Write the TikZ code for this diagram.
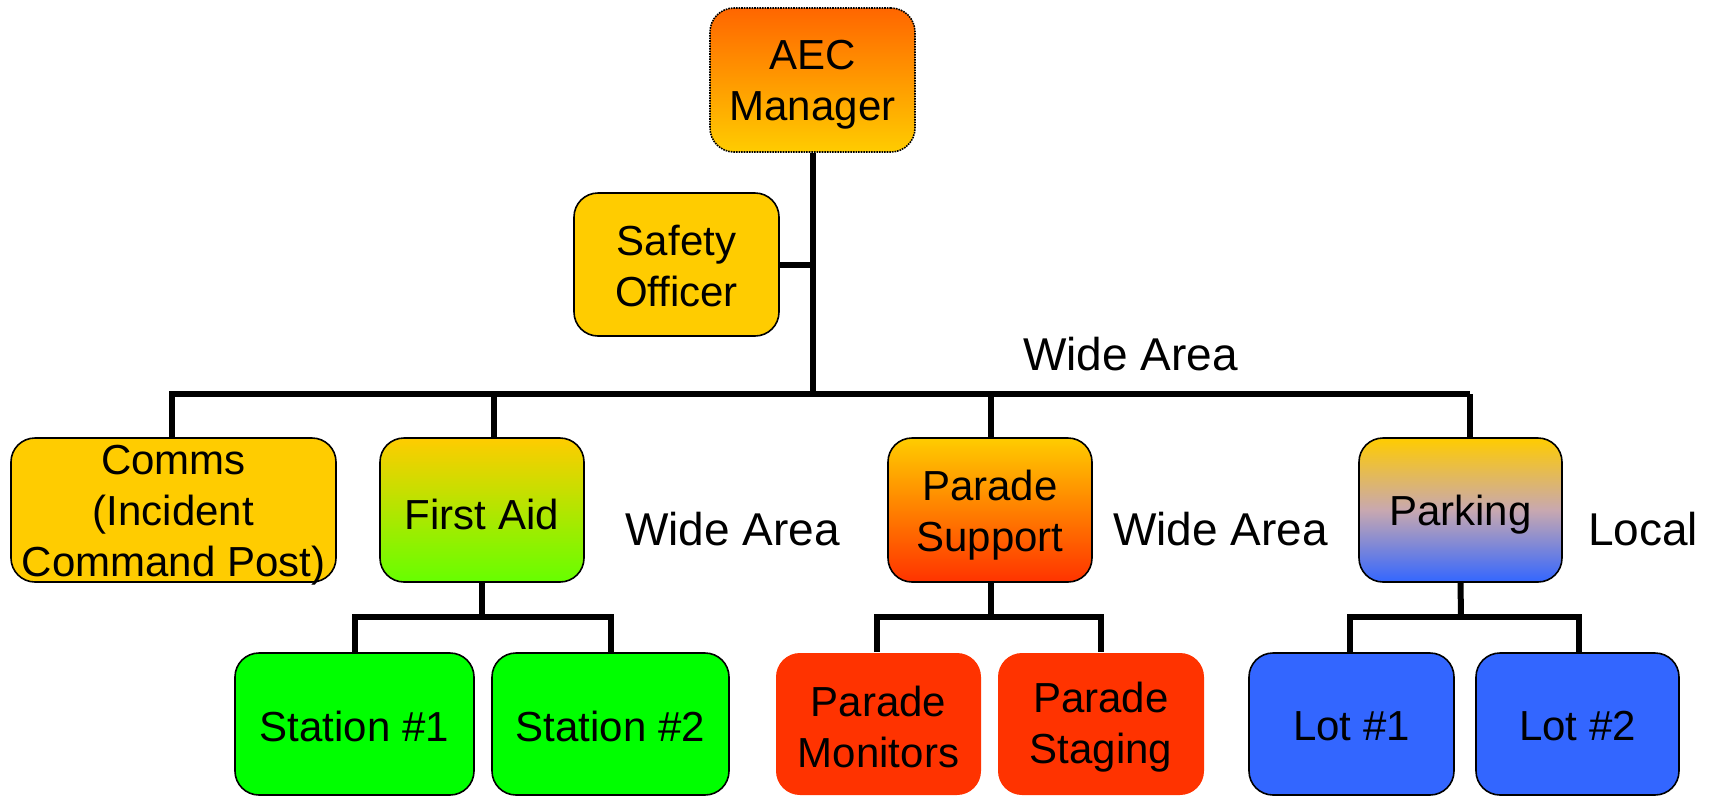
\documentclass[tikz,border=0pt]{standalone}
\usepackage{fontspec}
\setmainfont{Liberation Sans}
\definecolor{gold}{RGB}{255,204,0}
\definecolor{orangetop}{RGB}{255,102,0}
\definecolor{lgreen}{RGB}{102,255,0}
\definecolor{brightgreen}{RGB}{0,255,0}
\definecolor{redor}{RGB}{255,51,0}
\definecolor{blueb}{RGB}{51,102,255}
\definecolor{pinkgray}{RGB}{200,168,176}
\tikzset{
  box/.style={rounded corners=24pt, draw=black, line width=1.6pt, inner sep=0pt},
  txt/.style={align=center, inner sep=0pt, font=\fontsize{42}{51}\selectfont},
  lbl/.style={font=\fontsize{46}{52}\selectfont, inner sep=0pt, anchor=base west},
  conn/.style={line width=6pt, draw=black}
}
\begin{document}
\begin{tikzpicture}[x=1pt,y=-1pt]
\useasboundingbox (0,0) rectangle (1717,796);
% boxes
\node[box, draw=black, densely dotted, top color=orangetop, bottom color=gold,
  minimum width=205pt, minimum height=144pt] (aec) at (812.5,80) {};
\node[box, fill=gold, minimum width=205pt, minimum height=143pt] (safety) at (676.5,264.5) {};
\node[box, fill=gold, minimum width=325pt, minimum height=144pt] (comms) at (173.5,510) {};
\node[box, top color=gold, bottom color=lgreen, minimum width=204pt, minimum height=144pt] (fa) at (482,510) {};
\node[box, top color=gold, bottom color=redor, minimum width=204pt, minimum height=144pt] (ps) at (990,510) {};
\node[box, top color=gold, bottom color=blueb, middle color=pinkgray, minimum width=203pt, minimum height=144pt] (park) at (1460.5,510) {};
\node[box, fill=brightgreen, minimum width=239pt, minimum height=142pt] (st1) at (354.5,724) {};
\node[box, fill=brightgreen, minimum width=237pt, minimum height=142pt] (st2) at (610.5,724) {};
\node[box, draw=none, fill=redor, minimum width=205pt, minimum height=142pt] (pm) at (878.5,724) {};
\node[box, draw=none, fill=redor, minimum width=206pt, minimum height=142pt] (pst) at (1101,724) {};
\node[box, fill=blueb, minimum width=205pt, minimum height=142pt] (lot1) at (1351.5,724) {};
\node[box, fill=blueb, minimum width=203pt, minimum height=142pt] (lot2) at (1577.5,724) {};
% box texts
\node[txt, yshift=-5pt] (aect) at (aec.center) {AEC\\Manager};
\node[txt, yshift=-2pt] (safetyt) at (safety.center) {Safety\\Officer};
\node[txt, yshift=-5pt] (commst) at (comms.center) {Comms\\(Incident\\Command Post)};
\node[txt, yshift=-4pt] (fat) at (fa.center) {First Aid};
\node[txt, yshift=-5pt] (pst1) at (ps.center) {Parade\\Support};
\node[txt, yshift=-5pt] (parkt) at (park.center) {Parking};
\node[txt, yshift=-2pt] (st1t) at (st1.center) {Station \#1};
\node[txt, yshift=-2pt] (st2t) at (st2.center) {Station \#2};
\node[txt, yshift=-3pt] (pmt) at (pm.center) {Parade\\Monitors};
\node[txt, yshift=-3pt] (pstt) at (pst.center) {Parade\\Staging};
\node[txt, yshift=-2pt] (lot1t) at (lot1.center) {Lot \#1};
\node[txt, yshift=-2pt] (lot2t) at (lot2.center) {Lot \#2};
% labels
\node[lbl] (wa0) at (1023,370) {Wide Area};
\node[lbl] (wa1) at (625,545) {Wide Area};
\node[lbl] (wa2) at (1113,545) {Wide Area};
\node[lbl] (loc) at (1588,545) {Local};
% coordinates
\coordinate (trunk) at (813,394);
\coordinate (busR) at (1470,394);
\coordinate (fasub) at (482,617);
\coordinate (pssub) at (991,617);
\coordinate (pksub) at (1461,617);
% connectors
\draw[conn] (aec.south -| trunk) -- (trunk);
\draw[conn] (safety.east) -- (safety.east -| trunk);
\draw[conn] ([xshift=-1.5pt]comms.north) |- (busR);
\draw[conn] ([xshift=12pt]fa.north) -- ([xshift=12pt]fa.north |- trunk);
\draw[conn] ([xshift=1pt]ps.north) -- ([xshift=1pt]ps.north |- trunk);
\draw[conn] (busR) -- ([xshift=9.5pt]park.north);
% sub-trees
\draw[conn] (fa.south) -- (fasub);
\draw[conn] (st1.north) |- (fasub) -| (st2.north);
\draw[conn] ([xshift=1pt]ps.south) -- (pssub);
\draw[conn] ([xshift=-1.5pt]pm.north) |- (pssub) -| (pst.north);
\draw[conn] (park.south) -- (pksub);
\draw[conn] ([xshift=-1.5pt]lot1.north) |- (pksub) -| ([xshift=1.5pt]lot2.north);
\end{tikzpicture}
\end{document}
